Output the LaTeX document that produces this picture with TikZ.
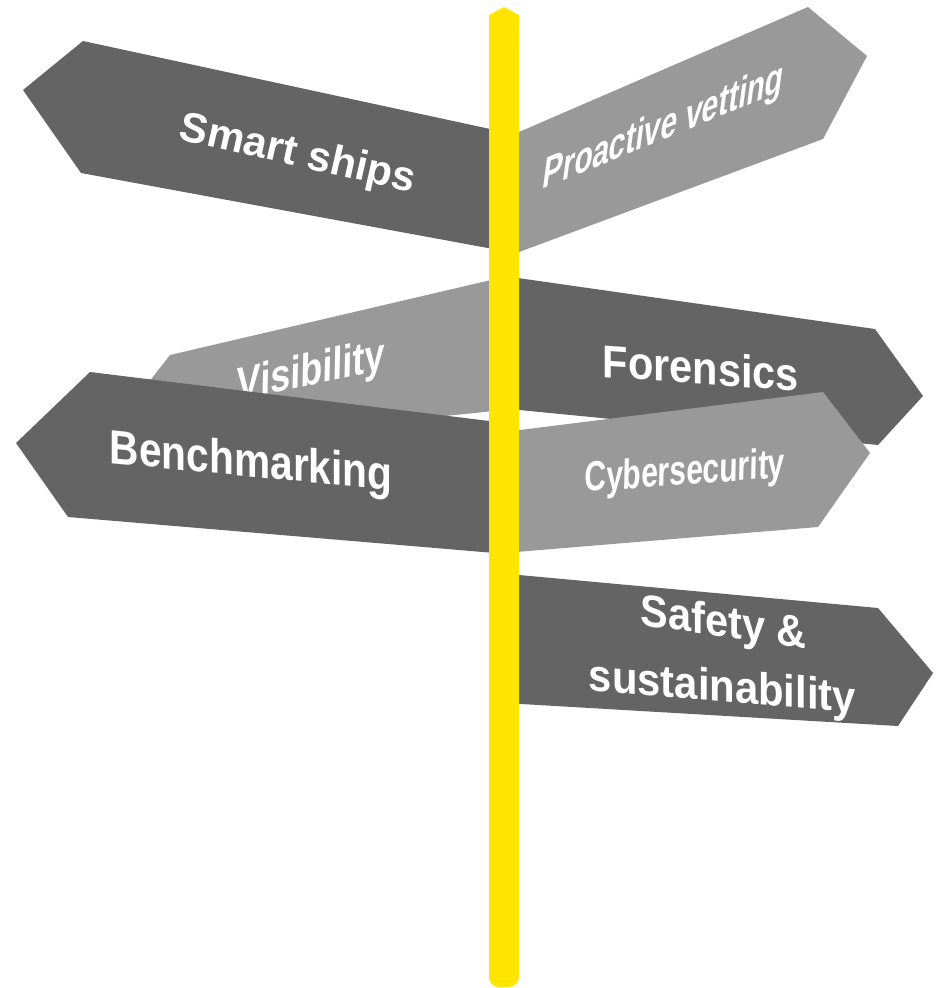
\documentclass[tikz,border=0pt]{standalone}
\usepackage{fontspec}
\setmainfont{Liberation Sans}
\definecolor{boarddark}{RGB}{100,100,100}
\definecolor{boardlight}{RGB}{153,153,153}
\definecolor{poleyellow}{RGB}{255,229,0}
\begin{document}
\begin{tikzpicture}[x=1pt,y=-1pt,
  darkboard/.style={fill=boarddark},
  lightboard/.style={fill=boardlight},
  polefill/.style={fill=poleyellow},
  signtext/.style={text=white, font=\fontsize{10}{12}\selectfont\bfseries,
                   inner sep=0pt, anchor=base west}]
\useasboundingbox (0,0) rectangle (938,988);

% boards back to front, each with its label set in perspective
\fill[darkboard]  (83,41) -- (23,90) -- (81,173) -- (504,251) -- (504,132) -- cycle;
\node[signtext, cm={4.096,-0.93,0.93,4.096,(0,0)}] (smart) at (177,139) {Smart ships};

\fill[lightboard] (504,138.5) -- (808,7) -- (867,56) -- (823,139) -- (504,257.6) -- cycle;
\node[signtext, cm={2.98,1.22,0.6,4.5,(0,0)}] (vetting) at (541,190) {Proactive vetting};

\fill[lightboard] (170,355) -- (135,400) -- (160,445) -- (504,410) -- (504,277) -- cycle;
\node[signtext, cm={3.6,0.76,0.1,4.6,(0,0)}] (visib) at (236,401) {Visibility};

\fill[darkboard]  (504,276) -- (875,329) -- (923,396) -- (878,445) -- (504,408.5) -- cycle;
\node[signtext, cm={4.15,-0.30,0,4.6,(0,0)}] (foren) at (602,377) {Forensics};

\fill[darkboard]  (90,372) -- (16,443) -- (68,517) -- (504,553.8) -- (504,422.8) -- cycle;
\node[signtext, cm={4.07,-0.395,0,4.8,(0,0)}] (bench) at (109,463) {Benchmarking};

\fill[lightboard] (504,432) -- (823,392) -- (870,453) -- (818,527) -- (504,553) -- cycle;
\node[signtext, cm={3.0,0.22,0.1,4.2,(0,0)}] (cyber) at (584,492) {Cybersecurity};

\fill[darkboard]  (504,573.6) -- (878,608) -- (933,673) -- (898,726) -- (504,703) -- cycle;
\node[signtext, cm={4.15,-0.58,0,4.5,(0,0)}] (safety1) at (640,625) {Safety \&};
\node[signtext, cm={4.18,-0.36,0,4.5,(0,0)}] (safety2) at (588,690) {sustainability};

% post
\fill[polefill, rounded corners=10pt] (489,30) rectangle (519,987);
\fill[polefill] (489,15) -- (504,7) -- (519,15) -- (519,40) -- (489,40) -- cycle;
\end{tikzpicture}
\end{document}
